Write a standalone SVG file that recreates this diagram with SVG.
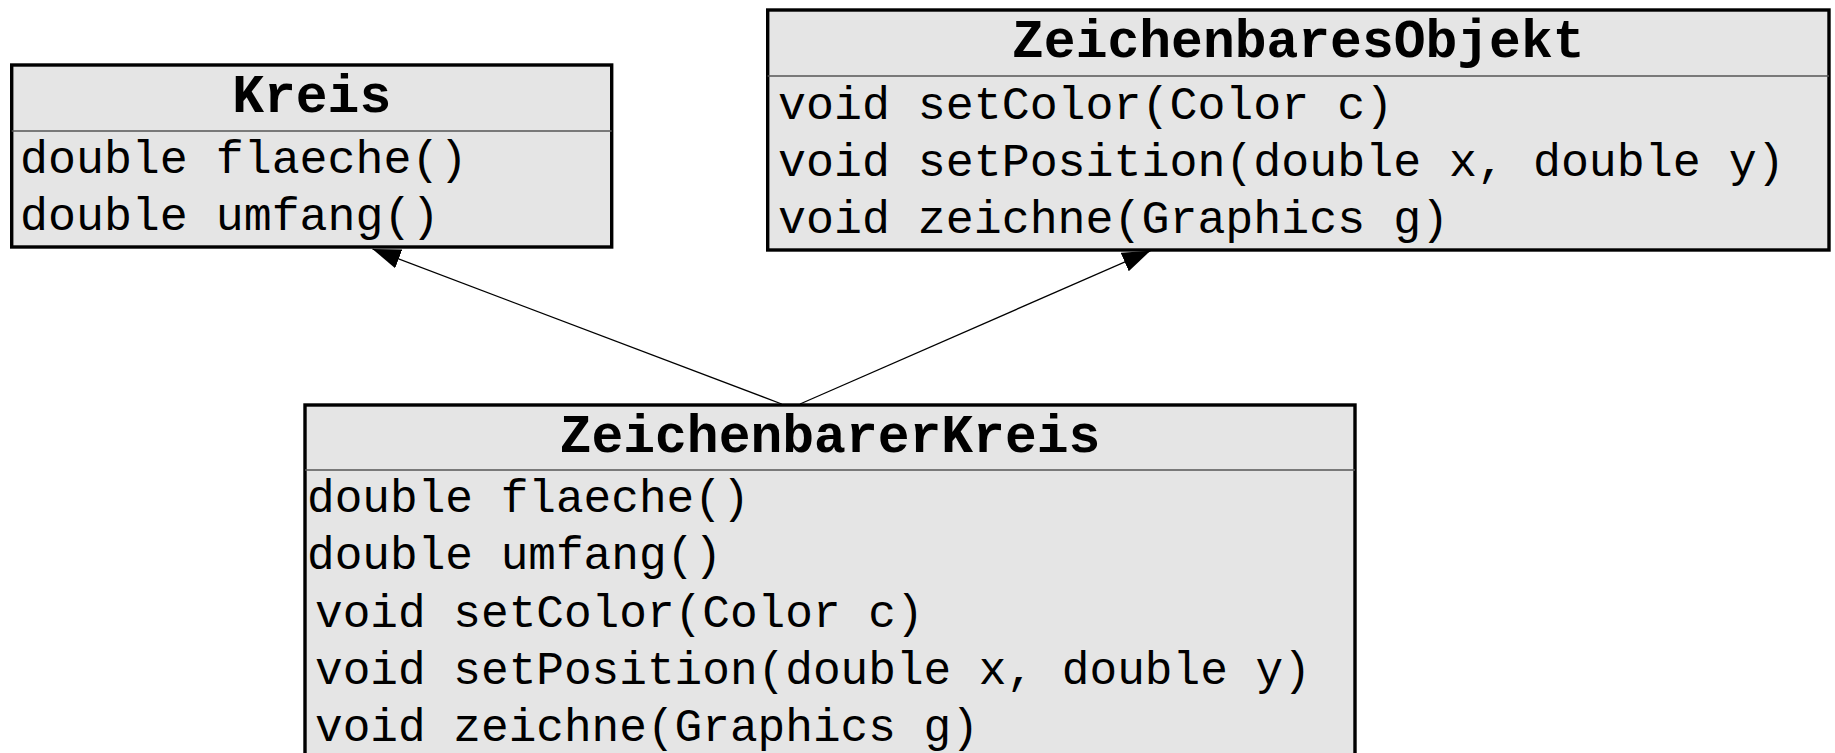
<svg xmlns="http://www.w3.org/2000/svg" width="1835" height="753" viewBox="0 0 1835 753">
  <style>
    .box { fill: #e5e5e5; stroke: #000; stroke-width: 3.4; }
    .div { stroke: #555; stroke-width: 1.6; }
    .title { font-family: "Liberation Mono", "Courier New", monospace; font-size: 53px; font-weight: bold; fill: #000; text-anchor: middle; }
    .row { font-family: "Liberation Mono", "Courier New", monospace; font-size: 46.6px; fill: #000; }
    .row2 { font-size: 46.1px; }
    .conn { stroke: #000; stroke-width: 1.3; fill: none; }
  </style>
  <defs>
    <marker id="arrow" markerUnits="userSpaceOnUse" viewBox="0 -11 30 22" refX="28" refY="0" markerWidth="30" markerHeight="22" orient="auto">
      <path d="M0,-10 L28,0 L0,10 z" fill="#000"/>
    </marker>
  </defs>
  <rect width="1835" height="753" fill="#fff"/>
  <g id="connectors">
    <line class="conn" x1="781.7" y1="404" x2="372.5" y2="249" marker-end="url(#arrow)"/>
    <line class="conn" x1="800" y1="404" x2="1150.4" y2="250.8" marker-end="url(#arrow)"/>
  </g>
  <g id="kreis">
    <rect class="box" x="11.7" y="65" width="600" height="182"/>
    <line class="div" x1="11.7" y1="131" x2="611.7" y2="131"/>
    <text class="title" x="311.7" y="112">Kreis</text>
    <text class="row" x="20" y="173">double flaeche()</text>
    <text class="row" x="20" y="230">double umfang()</text>
  </g>
  <g id="zeichenbaresObjekt">
    <rect class="box" x="767.7" y="10" width="1061.3" height="240"/>
    <line class="div" x1="767.7" y1="76" x2="1829" y2="76"/>
    <text class="title" x="1298.3" y="57">ZeichenbaresObjekt</text>
    <text class="row" x="778" y="118.5">void setColor(Color c)</text>
    <text class="row" x="778" y="175.5">void setPosition(double x, double y)</text>
    <text class="row" x="778" y="232.5">void zeichne(Graphics g)</text>
  </g>
  <g id="zeichenbarerKreis">
    <rect class="box" x="305" y="405" width="1050" height="360"/>
    <line class="div" x1="305" y1="470" x2="1355" y2="470"/>
    <text class="title" x="830" y="452">ZeichenbarerKreis</text>
    <text class="row row2" x="307" y="512">double flaeche()</text>
    <text class="row row2" x="307" y="569">double umfang()</text>
    <text class="row row2" x="315" y="626.5">void setColor(Color c)</text>
    <text class="row row2" x="315" y="683.5">void setPosition(double x, double y)</text>
    <text class="row row2" x="315" y="740.5">void zeichne(Graphics g)</text>
  </g>
</svg>
